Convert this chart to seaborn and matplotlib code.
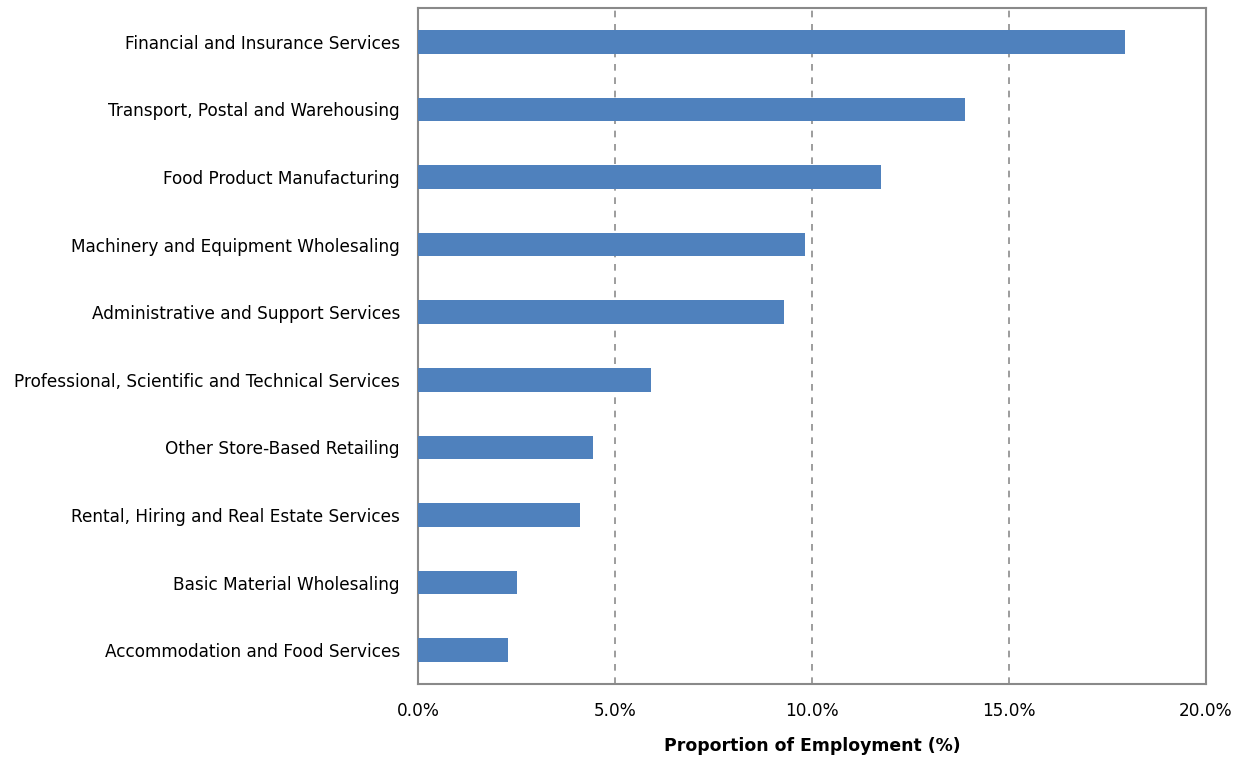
import matplotlib
matplotlib.use("Agg")
import matplotlib.pyplot as plt
import seaborn as sns
import pandas as pd
from matplotlib.ticker import FuncFormatter

categories = [
    "Financial and Insurance Services",
    "Transport, Postal and Warehousing",
    "Food Product Manufacturing",
    "Machinery and Equipment Wholesaling",
    "Administrative and Support Services",
    "Professional, Scientific and Technical Services",
    "Other Store-Based Retailing",
    "Rental, Hiring and Real Estate Services",
    "Basic Material Wholesaling",
    "Accommodation and Food Services",
]
values = [17.94, 13.88, 11.75, 9.82, 9.29, 5.91, 4.44, 4.11, 2.51, 2.28]
x_ticks = [0, 5, 10, 15, 20]

df = pd.DataFrame({"Industry": categories, "Share": values})

sns.set_theme(style="white")
plt.rcParams["font.family"] = ["DejaVu Sans"]

fig = plt.figure(figsize=(12.46, 7.58), dpi=100)
ax = fig.add_axes([418/1246, 1-684/758, (1206-418)/1246, (684-8)/758])

sns.barplot(data=df, x="Share", y="Industry", color="#4F81BD", saturation=1,
            width=0.35, ax=ax, zorder=3, linewidth=0, edgecolor="none")

ax.set_xlim(0, 20)
ax.set_ylim(9.5, -0.5)
ax.set_xticks(x_ticks)
ax.xaxis.set_major_formatter(FuncFormatter(lambda v, p: f"{v:.1f}%"))
for xv in x_ticks[1:-1]:
    ax.axvline(xv, color="#8c8c8c", linestyle=(0, (4, 4)), linewidth=1.2, zorder=1)

for s in ax.spines.values():
    s.set_color("#898989")
    s.set_linewidth(1.5)
    s.set_visible(True)

ax.tick_params(axis="both", length=0, labelsize=12.2, colors="black")
ax.tick_params(axis="y", pad=13)
ax.tick_params(axis="x", pad=13)
ax.set_ylabel("")
ax.set_xlabel("Proportion of Employment (%)", fontsize=12.4, fontweight="bold",
              labelpad=12, color="black")

fig.savefig("out.png", dpi=100, facecolor="white")
